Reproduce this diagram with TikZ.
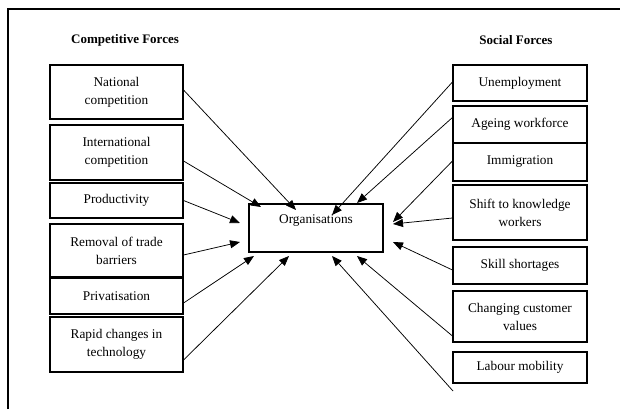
\documentclass[tikz,border=0pt]{standalone}
\usepackage{fontspec}
\setmainfont{Liberation Serif}
\usetikzlibrary{arrows.meta,calc}
\begin{document}
\begin{tikzpicture}[x=1pt,y=-1pt,
  txt/.style={font=\fontsize{13.3}{18}\selectfont},
  head/.style={font=\fontsize{13}{18}\selectfont\bfseries},
  fbox/.style={draw,line width=1.1pt,inner sep=0pt,align=center,txt},
  lbox/.style={fbox,minimum width=133pt},
  rbox/.style={fbox,minimum width=134pt},
  arr/.style={line width=0.75pt,-{Triangle[length=10pt,width=8pt]}}]
\useasboundingbox (0,0) rectangle (620,409);
\draw[line width=1.1pt] (8,409) -- (8,9) -- (620,9);
\node[head] (hc) at (125,40) {Competitive Forces};
\node[head] (hs) at (516,40) {Social Forces};
% left boxes
\node[lbox,minimum height=54pt] (nat) at (116.5,92) {National\\competition};
\node[lbox,minimum height=55pt] (int) at (116.5,152.5) {International\\competition};
\node[lbox,minimum height=35pt] (pro) at (116.5,200.5) {Productivity};
\node[lbox,minimum height=53pt] (rem) at (116.5,250.5) {Removal of trade\\barriers};
\node[lbox,minimum height=36pt] (pri) at (116.5,296) {Privatisation};
\node[lbox,minimum height=55pt] (rap) at (116.5,344.5) {Rapid changes in\\technology};
% centre
\node[fbox,minimum width=134pt,minimum height=48pt] (org) at (316,228) {Organisations\\\mbox{}};
% right boxes
\node[rbox,minimum height=36pt] (une) at (520,83) {Unemployment};
\node[rbox,minimum height=37pt] (age) at (520,124.5) {Ageing workforce};
\node[rbox,minimum height=38pt] (imm) at (520,162) {Immigration};
\node[rbox,minimum height=55pt] (shi) at (520,212.5) {Shift to knowledge\\workers};
\node[rbox,minimum height=37pt] (ski) at (520,265.5) {Skill shortages};
\node[rbox,minimum height=51pt] (cha) at (520,316.5) {Changing customer\\values};
\node[rbox,minimum height=31pt] (lab) at (520,367.5) {Labour mobility};
\coordinate (labstart) at (453,391);
% left arrows
\draw[arr] ([yshift=2pt]nat.east) -- ($(org)+(-20,-18)$);
\draw[arr] ([yshift=-8.5pt]int.east) -- ($(org)+(-55,-21)$);
\draw[arr] (pro.east) -- ($(org)+(-76,-5)$);
\draw[arr] ([yshift=-4.5pt]rem.east) -- ($(org)+(-76,14)$);
\draw[arr] ([yshift=-7pt]pri.east) -- ($(org)+(-62,28)$);
\draw[arr] ([yshift=-15.5pt]rap.east) -- ($(org)+(-27,28)$);
% right arrows
\draw[arr] ([yshift=1pt]une.west) -- ($(org)+(16,-13)$);
\draw[arr] ([yshift=7pt]age.west) -- ($(org)+(41,-25)$);
\draw[arr] ([yshift=1pt]imm.west) -- ($(org)+(77,-6)$);
\draw[arr] ([yshift=-5.5pt]shi.west) -- ($(org)+(77,-4)$);
\draw[arr] ([yshift=-4.5pt]ski.west) -- ($(org)+(77,14)$);
\draw[arr] ([yshift=-19.5pt]cha.west) -- ($(org)+(41,28)$);
\draw[arr] (labstart) -- ($(org)+(16,28)$);
\end{tikzpicture}
\end{document}
